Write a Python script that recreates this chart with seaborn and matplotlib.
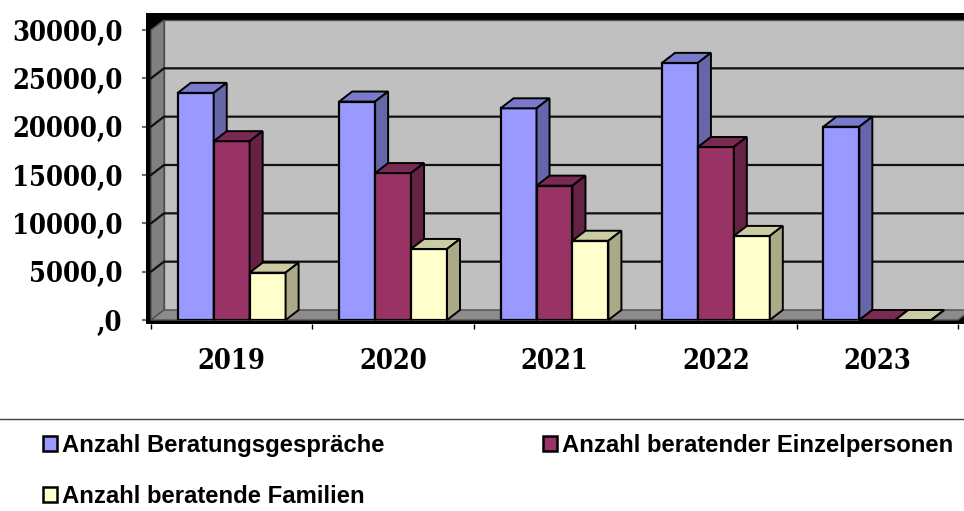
import numpy as np
import pandas as pd
import matplotlib
matplotlib.use("Agg")
import matplotlib.pyplot as plt
from matplotlib.patches import Polygon, Rectangle
from matplotlib.lines import Line2D
from matplotlib.colors import to_rgb
import seaborn as sns

years = ["2019", "2020", "2021", "2022", "2023"]
gespraeche = [23500, 22600, 21900, 26600, 20000]
einzelpersonen = [18500, 15200, 13900, 17900, 0]
familien = [4900, 7350, 8200, 8700, 0]
series_names = ["Anzahl Beratungsgespräche", "Anzahl beratender Einzelpersonen", "Anzahl beratende Familien"]
colors = ["#9999FF", "#993366", "#FFFFCC"]
y_ticks = [0, 5000, 10000, 15000, 20000, 25000, 30000]
y_labels = [",0", "5000,0", "10000,0", "15000,0", "20000,0", "25000,0", "30000,0"]

W, H = 964, 511
L, R, T, B = 151, 958, 30, 320
DX_PX, DY_PX = 13, 10

df = pd.DataFrame({
    "Jahr": years * 3,
    "Wert": gespraeche + einzelpersonen + familien,
    "Reihe": sum([[n] * len(years) for n in series_names], []),
})

sns.set_theme(style="white")
plt.rcParams["font.family"] = ["DejaVu Serif"]
plt.rcParams["font.stretch"] = "condensed"
fig = plt.figure(figsize=(W / 100, H / 100), dpi=100, facecolor="white")
ax = fig.add_axes([L / W, 1 - B / H, (R - L) / W, (B - T) / H])
ax.patch.set_visible(False)

sns.barplot(data=df, x="Jahr", y="Wert", hue="Reihe", hue_order=series_names,
            palette=colors, width=0.668, gap=0, saturation=1, ax=ax,
            edgecolor="black", linewidth=1.6, legend=True)
ax.set_xlim(-0.5, len(years) - 0.5)
ax.set_ylim(0, 30000)
ax.set_xlabel("")
ax.set_ylabel("")

dx = DX_PX / (R - L) * len(years)
dy = DY_PX / (B - T) * 30000
x0, x1 = -0.5, len(years) - 0.5

# dark frame behind the 3D box
fig.add_artist(Rectangle((146 / W, 1 - 324 / H), (W - 146) / W, (324 - 13) / H,
                         transform=fig.transFigure, facecolor="black", edgecolor="none", zorder=-1))
# walls
wall_kw = dict(clip_on=False, edgecolor="#505050", linewidth=1, zorder=0.5)
ax.add_patch(Polygon([(x0, 0), (x0 + dx, dy), (x0 + dx, 30000 + dy), (x0, 30000)], facecolor="#808080", **wall_kw))
ax.add_patch(Polygon([(x0 + dx, dy), (x1 + dx, dy), (x1 + dx, 30000 + dy), (x0 + dx, 30000 + dy)], facecolor="#C0C0C0", **wall_kw))
ax.add_patch(Polygon([(x0, 0), (x1, 0), (x1 + dx, dy), (x0 + dx, dy)], facecolor="#8C8C8C", **wall_kw))
# gridlines on side and back wall
for v in y_ticks[1:-1]:
    ax.plot([x0, x0 + dx, x1 + dx], [v, v + dy, v + dy], color="#111111", lw=1.6, zorder=0.8,
            clip_on=False, solid_joinstyle="miter")

# 3D faces from the drawn bars
for h, cont in enumerate(ax.containers):
    base = np.array(to_rgb(colors[h]))
    for bar in cont:
        bar.set_zorder(3 + h)
        bx, bw, bh = bar.get_x(), bar.get_width(), bar.get_height()
        ax.add_patch(Polygon([(bx, bh), (bx + dx, bh + dy), (bx + bw + dx, bh + dy), (bx + bw, bh)],
                             facecolor=base * 0.8, edgecolor="black", lw=1.4, zorder=3 + h, clip_on=False))
        ax.add_patch(Polygon([(bx + bw, 0), (bx + bw + dx, dy), (bx + bw + dx, bh + dy), (bx + bw, bh)],
                             facecolor=base * 0.667, edgecolor="black", lw=1.4, zorder=3 + h, clip_on=False))

for s in ax.spines.values():
    s.set_visible(False)
ax.spines["left"].set_position(("outward", 5 * 0.72))
ax.spines["bottom"].set_position(("outward", 4 * 0.72))
ax.set_yticks(y_ticks, y_labels)
ax.set_xticks(np.arange(-0.5, len(years)), minor=True)
ax.set_xticks(np.arange(len(years)), years)
ax.tick_params(axis="y", left=True, length=3, width=1.5, color="#707070", pad=14, labelsize=19.5, labelcolor="black")
ax.tick_params(axis="x", which="major", bottom=False, length=0, pad=17, labelsize=19.5, labelcolor="black")
ax.tick_params(axis="x", which="minor", bottom=True, length=3.6, width=1, color="black")
for t in ax.get_xticklabels() + ax.get_yticklabels():
    t.set_fontweight("bold")

# separator
fig.add_artist(Line2D([0, 1], [1 - 419 / H] * 2, transform=fig.transFigure, color="#404040", lw=1))

# legend
handles, labels = ax.get_legend_handles_labels()
order = [0, 2, 1]
ax.get_legend().remove()
leg = fig.legend([handles[i] for i in order], [labels[i] for i in order], ncols=2, loc="upper left",
                 bbox_to_anchor=(43 / W, 1 - 434 / H), bbox_transform=fig.transFigure,
                 frameon=False, borderpad=0, borderaxespad=0, handlelength=0.58, handleheight=0.58,
                 handletextpad=0.22, columnspacing=6.62, labelspacing=1.155,
                 prop={"family": "Liberation Sans", "weight": "bold", "size": 17.2, "stretch": "normal"},
                 labelcolor="black")
for hd in leg.legend_handles:
    hd.set_edgecolor("black")
    hd.set_linewidth(1.8)

fig.savefig("out.png", dpi=100)
